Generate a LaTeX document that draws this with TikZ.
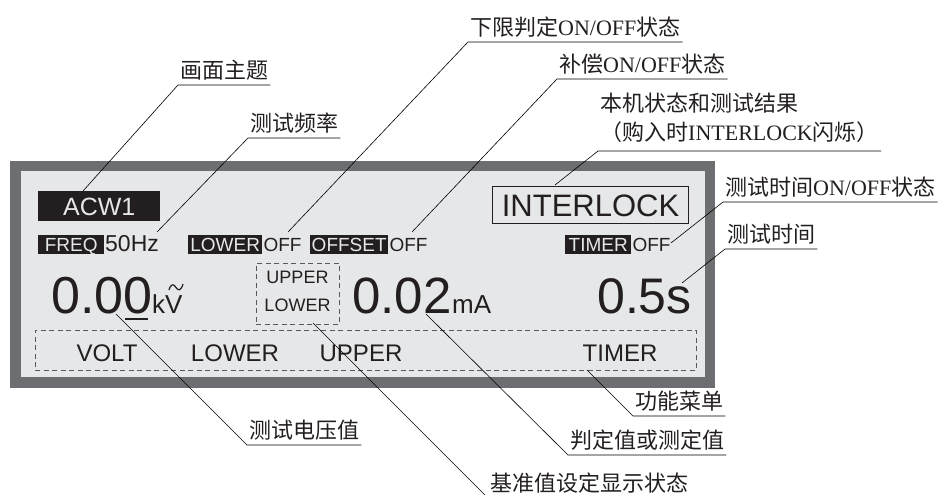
\documentclass[tikz,border=0pt]{standalone}
\usepackage{fontspec}
\setmainfont{Liberation Serif}
\newfontfamily\dispfont{Liberation Sans}
\newfontfamily\cjk{Noto Sans CJK SC}
\definecolor{framegray}{HTML}{6D6E71}
\definecolor{screen}{HTML}{E6E7E8}
\definecolor{ink}{HTML}{231F20}
\definecolor{dashgray}{HTML}{58595B}
\tikzset{
  disp/.style={text=ink, inner sep=0pt},
  inv/.style={font=\dispfont\fontsize{19}{19}\selectfont, fill=ink, text=screen,
    inner sep=0pt, text height=16.5pt, text depth=2pt, anchor=base west},
  sm/.style={disp, font=\dispfont\fontsize{19}{19}\selectfont, anchor=base west},
  big/.style={disp, font=\dispfont\fontsize{52}{52}\selectfont, anchor=base west},
  unit/.style={disp, font=\dispfont\fontsize{26}{26}\selectfont, anchor=base west},
  menutext/.style={disp, font=\dispfont\fontsize{24}{24}\selectfont, anchor=base},
  reftext/.style={disp, font=\dispfont\fontsize{18}{18}\selectfont, anchor=base},
  lbl/.style={font=\cjk\fontsize{22}{22}\selectfont, text=ink, inner xsep=2pt,
    inner ysep=6.5pt, text depth=0pt, anchor=south west},
  leader/.style={draw=black, line width=0.6pt},
  dashbox/.style={draw=dashgray, line width=0.9pt, dash pattern=on 5pt off 3.5pt,
    inner sep=0pt, anchor=north west},
}
\begin{document}
\begin{tikzpicture}[x=1pt,y=-1pt]
\useasboundingbox (0,0) rectangle (940,495);
\clip (0,0) rectangle (940,495);
% screen frame
\fill[framegray] (10,161) rectangle (715,388);
\fill[screen] (21,171) rectangle (705,377);
% title
\node[fill=ink, text=screen, font=\dispfont\fontsize{25}{25}\selectfont, inner sep=0pt,
  minimum width=122pt, minimum height=30pt, text height=17.9pt, text depth=0pt,
  anchor=north west] (acw) at (38,191) {ACW1};
% status row
\node[inv, minimum width=66pt] (freq) at (38,251.5) {FREQ};
\node[sm, font=\dispfont\fontsize{23}{23}\selectfont] (hz) at (105,251.5) {50Hz};
\node[inv, minimum width=74pt] (lower) at (188,251.5) {LOWER};
\node[sm] (loweroff) at ([xshift=1pt]lower.base east) {OFF};
\node[inv, minimum width=78pt] (offset) at (310,251.5) {OFFSET};
\node[sm] (offsetoff) at ([xshift=1pt]offset.base east) {OFF};
\node[inv, minimum width=66pt] (timer) at (565,251.5) {TIMER};
\node[sm] (timeroff) at ([xshift=1pt]timer.base east) {OFF};
% interlock
\node[draw=ink, line width=1.1pt, text=ink, font=\dispfont\fontsize{31}{31}\selectfont,
  inner sep=0pt, minimum width=196pt, minimum height=37pt, text height=22pt, text depth=0pt,
  anchor=north west] (ilock) at (492,186) {INTERLOCK};
% values
\node[big] (volt) at (51,313) {0.00};
\draw[ink, line width=1.5pt] (125,319) -- (148,319);
\node[unit] (kv) at (152,313) {kV};
\draw[ink, line width=1.2pt] (169,290) .. controls (171,283) and (174,284) .. (176,287.5)
  .. controls (178,291) and (181,291) .. (183,284);
\node[dashbox, minimum width=83pt, minimum height=61pt] (ulbox) at (256,263) {};
\node[reftext] (up) at (297.5,283.5) {UPPER};
\node[reftext] (lo) at (297.5,311.5) {LOWER};
\node[big, font=\dispfont\fontsize{51}{51}\selectfont] (curr) at (352,313) {0.02};
\node[unit] (ma) at (452,313) {mA};
\node[big, font=\dispfont\fontsize{50}{50}\selectfont, anchor=base east] (ttime) at (692,313) {0.5s};
% function menu
\node[dashbox, minimum width=661pt, minimum height=40pt] (menu) at (35,330) {};
\node[menutext] (m1) at (107,361) {VOLT};
\node[menutext] (m2) at (235,361) {LOWER};
\node[menutext] (m3) at (361,361) {UPPER};
\node[menutext] (m4) at (620,361) {TIMER};
% labels
\node[lbl] (lA) at (178,85) {画面主题};
\node[lbl] (lB) at (248,138) {测试频率};
\node[lbl] (lC) at (468,42) {下限判定{\rmfamily ON/OFF}状态};
\node[lbl] (lD) at (557,79) {补偿{\rmfamily ON/OFF}状态};
\node[lbl, inner ysep=10.5pt] (lE) at (598,151) {（购入时{\rmfamily INTERLOCK}闪烁）};
\node[lbl, anchor=base west, inner ysep=0pt] (lE1) at (598,111.5) {本机状态和测试结果};
\node[lbl] (lF) at (723,202) {测试时间{\rmfamily ON/OFF}状态};
\node[lbl] (lG) at (725,249) {测试时间};
\node[lbl] (lH) at (247,445) {测试电压值};
\node[lbl] (lI) at (488,498) {基准值设定显示状态};
\node[lbl] (lJ) at (568,455) {判定值或测定值};
\node[lbl] (lK) at (633,416) {功能菜单};
% leader end points
\coordinate (tA) at (83,191);
\coordinate (tB) at (157,232);
\coordinate (tC) at (288,232);
\coordinate (tD) at (412,232);
\coordinate (tE) at (555,185);
\coordinate (tF) at (671,243);
\coordinate (tG) at (682,283);
\coordinate (tH) at (116,314);
\coordinate (tI) at (313,323);
\coordinate (tJ) at (426,314);
\coordinate (tK) at (587,370);
\foreach \t/\l in {tA/lA,tB/lB,tC/lC,tD/lD,tE/lE,tF/lF,tG/lG,tH/lH,tI/lI,tJ/lJ,tK/lK}
  \draw[leader] (\t) -- (\l.south west) -- (\l.south east);
\end{tikzpicture}
\end{document}
